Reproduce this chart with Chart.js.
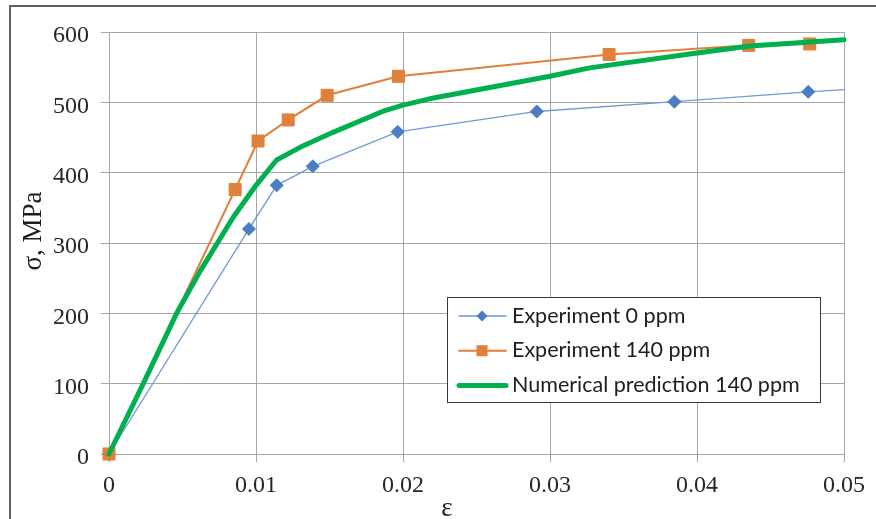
<!DOCTYPE html>
<html>
<head>
<meta charset="utf-8">
<script src="https://cdn.jsdelivr.net/npm/chart.js@4.4.0/dist/chart.umd.min.js"></script>
<style>
  html, body { margin: 0; padding: 0; background: #fff; }
  #wrap { position: relative; width: 876px; height: 519px; overflow: hidden; }
  #frame { position: absolute; left: 9px; top: 5px; width: 900px; height: 600px;
           border-top: 2px solid #5f5f5f; border-left: 2px solid #5f5f5f; }
  canvas { position: absolute; left: 0; top: 0; }
</style>
</head>
<body>
<div id="wrap">
  <div id="frame"></div>
  <canvas id="curvas" width="876" height="519"></canvas>
</div>
<script>
// ε – σ curves
const strain0 = [0, 0.00952, 0.01141, 0.01386, 0.01964, 0.0291, 0.03846, 0.04757, 0.05];
const stress0 = [0, 320, 382, 409, 458, 487, 501, 515, 518];

const strain140 = [0, 0.00858, 0.01014, 0.01219, 0.01484, 0.01969, 0.03402, 0.04352, 0.04767];
const stress140 = [0, 376, 445, 475, 510, 537, 568, 581, 583];

const strainModel = [0, 0.00233, 0.0046, 0.0062, 0.00846, 0.0100, 0.0114, 0.0130, 0.0152,
                     0.0186, 0.0200, 0.0218, 0.0300, 0.0327, 0.0400, 0.0436, 0.0500];
const stressModel = [0, 100, 200, 260, 337, 382, 418, 436, 457,
                     487, 496, 505, 537, 549, 570, 580, 589];

const strainTicks = [0, 0.01, 0.02, 0.03, 0.04, 0.05];
const stressTicks = [0, 100, 200, 300, 400, 500, 600];

const seriesLabels = ['Experiment 0 ppm', 'Experiment 140 ppm', 'Numerical prediction 140 ppm'];

function toPoints(xs, ys) {
    return xs.map((x, i) => ({ x: x, y: ys[i] }));
}

const gridColor = '#a6a6a6';
const tickFont = { family: '"Liberation Serif", serif', size: 24 };

// titles of both axes and the boxed legend inside the plot
const extras = {
    id: 'extras',
    afterDatasetsDraw(chart) {
        const ctx = chart.ctx;
        ctx.save();

        const left = 447, top = 297, w = 373, h = 105;
        ctx.fillStyle = '#fff';
        ctx.fillRect(left, top, w, h);
        ctx.strokeStyle = '#3a3a3a';
        ctx.lineWidth = 1;
        ctx.strokeRect(left + 0.5, top + 0.5, w, h);

        chart.data.datasets.forEach((ds, i) => {
            const base = top + 25.7 + i * 34.7;
            const ly = base - 6.7;
            const cx = left + 35;
            ctx.strokeStyle = ds.borderColor;
            ctx.lineWidth = ds.borderWidth;
            ctx.lineCap = 'round';
            ctx.beginPath();
            ctx.moveTo(left + 12, ly);
            ctx.lineTo(left + 59, ly);
            ctx.stroke();

            ctx.fillStyle = ds.pointBackgroundColor;
            if (ds.pointStyle === 'rectRot') {
                ctx.beginPath();
                ctx.moveTo(cx - 5.5, ly);
                ctx.lineTo(cx, ly - 5.5);
                ctx.lineTo(cx + 5.5, ly);
                ctx.lineTo(cx, ly + 5.5);
                ctx.closePath();
                ctx.fill();
            } else if (ds.pointStyle === 'rect') {
                ctx.fillRect(cx - 5.5, ly - 5.5, 11, 11);
            }

            ctx.fillStyle = '#1e1e1e';
            ctx.font = '21.5px Lato';
            ctx.textAlign = 'left';
            ctx.textBaseline = 'alphabetic';
            ctx.fillText(ds.label, left + 65, base);
        });

        ctx.fillStyle = '#1e1e1e';
        ctx.font = '27px "Liberation Serif"';
        ctx.textAlign = 'center';
        ctx.textBaseline = 'alphabetic';
        ctx.fillText('ε', 447, 516);

        ctx.translate(41, 231);
        ctx.rotate(-Math.PI / 2);
        ctx.fillText('σ, MPa', 0, 0);
        ctx.restore();
    }
};

const ctx = document.getElementById('curvas').getContext('2d');
const curvasChart = new Chart(ctx, {
    type: 'scatter',
    data: {
        datasets: [{
            label: seriesLabels[0],
            data: toPoints(strain0, stress0),
            showLine: true,
            borderColor: '#6f9ad6',
            borderWidth: 1.3,
            pointStyle: 'rectRot',
            pointRadius: strain0.map((x, i) => i === strain0.length - 1 ? 0 : 6.5),
            pointBackgroundColor: '#4a7ebf',
            pointBorderColor: '#4a7ebf',
            pointBorderWidth: 1,
            clip: false,
            order: 3
        }, {
            label: seriesLabels[1],
            data: toPoints(strain140, stress140),
            showLine: true,
            borderColor: '#e0803a',
            borderWidth: 2,
            pointStyle: 'rect',
            pointRadius: 8.5,
            pointBackgroundColor: '#e0803a',
            pointBorderColor: '#e0803a',
            pointBorderWidth: 1,
            clip: false,
            order: 2
        }, {
            label: seriesLabels[2],
            data: toPoints(strainModel, stressModel),
            showLine: true,
            borderColor: '#00b04f',
            borderWidth: 5,
            borderJoinStyle: 'round',
            borderCapStyle: 'round',
            pointRadius: 0,
            pointBackgroundColor: '#00b04f',
            pointStyle: false,
            clip: false,
            order: 1
        }]
    },
    options: {
        responsive: false,
        animation: false,
        events: [],
        layout: { padding: { top: 32, right: 32, left: 0, bottom: 0 } },
        plugins: {
            legend: { display: false },
            tooltip: { enabled: false }
        },
        scales: {
            x: {
                type: 'linear',
                min: 0,
                max: 0.05,
                afterBuildTicks: s => { s.ticks = strainTicks.map(v => ({ value: v })); },
                afterFit: s => { s.height = 65; },
                grid: { color: gridColor, lineWidth: 1, tickLength: 8 },
                border: { color: gridColor, width: 1 },
                ticks: {
                    font: tickFont,
                    color: '#262626',
                    padding: 9,
                    maxRotation: 0,
                    callback: v => v === 0 ? '0' : v.toFixed(2)
                }
            },
            y: {
                type: 'linear',
                min: 0,
                max: 600,
                afterBuildTicks: s => { s.ticks = stressTicks.map(v => ({ value: v })); },
                afterFit: s => { s.width = 109; },
                grid: { color: gridColor, lineWidth: 1, tickLength: 8 },
                border: { color: gridColor, width: 1 },
                ticks: {
                    font: tickFont,
                    color: '#262626',
                    padding: 12,
                    labelOffset: 4
                }
            }
        }
    },
    plugins: [extras]
});
</script>
</body>
</html>
